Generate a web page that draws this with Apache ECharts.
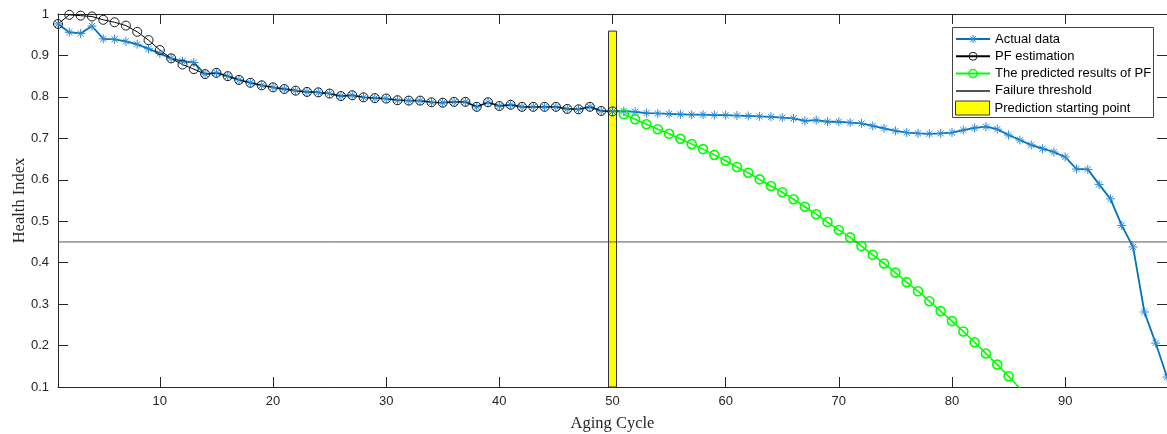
<!DOCTYPE html>
<html><head><meta charset="utf-8">
<script src="https://cdn.jsdelivr.net/npm/echarts@6/dist/echarts.min.js"></script>
<style>html,body{margin:0;padding:0;background:#fff}#c{width:1167px;height:434px}</style>
</head><body><div id="c"></div>
<script>
const xTicks = [10, 20, 30, 40, 50, 60, 70, 80, 90];
const yTicks = [0.1, 0.2, 0.3, 0.4, 0.5, 0.6, 0.7, 0.8, 0.9, 1];
const xRange = [1, 99];
const yRange = [0.1, 1];

const seriesNames = ['Actual data', 'PF estimation', 'The predicted results of PF', 'Failure threshold', 'Prediction starting point'];

const actualStart = 1;
const actualData = [
  0.976, 0.956, 0.953, 0.971, 0.940, 0.939, 0.934, 0.927, 0.916, 0.905,
  0.893, 0.886, 0.883, 0.855, 0.858, 0.850, 0.841, 0.834, 0.828, 0.823,
  0.819, 0.815, 0.812, 0.811, 0.808, 0.802, 0.804, 0.799, 0.797, 0.796,
  0.792, 0.791, 0.791, 0.787, 0.786, 0.788, 0.788, 0.776, 0.787, 0.778,
  0.781, 0.776, 0.776, 0.776, 0.776, 0.771, 0.770, 0.776, 0.766, 0.765,
  0.766, 0.764, 0.761, 0.760, 0.759, 0.758, 0.757, 0.757, 0.756, 0.756,
  0.755, 0.754, 0.753, 0.752, 0.750, 0.748, 0.742, 0.744, 0.740, 0.740,
  0.738, 0.736, 0.730, 0.724, 0.718, 0.714, 0.712, 0.711, 0.712, 0.714,
  0.720, 0.725, 0.728, 0.722, 0.708, 0.696, 0.684, 0.675, 0.667, 0.655,
  0.626, 0.625, 0.589, 0.554, 0.490, 0.438, 0.281, 0.206, 0.124
];

const pfStart = 1;
const pfData = [
  0.976, 0.998, 0.996, 0.994, 0.986, 0.980, 0.972, 0.957, 0.937, 0.913,
  0.893, 0.878, 0.867, 0.855, 0.858, 0.850, 0.841, 0.834, 0.828, 0.823,
  0.819, 0.815, 0.812, 0.811, 0.808, 0.802, 0.804, 0.799, 0.797, 0.796,
  0.792, 0.791, 0.791, 0.787, 0.786, 0.788, 0.788, 0.776, 0.787, 0.778,
  0.781, 0.776, 0.776, 0.776, 0.776, 0.771, 0.770, 0.776, 0.766, 0.765
];

const predStart = 51;
const predData = [
  0.758, 0.746, 0.734, 0.722, 0.711, 0.699, 0.686, 0.674, 0.660, 0.646,
  0.631, 0.617, 0.601, 0.585, 0.570, 0.553, 0.535, 0.517, 0.498, 0.479,
  0.461, 0.440, 0.419, 0.398, 0.376, 0.353, 0.331, 0.307, 0.283, 0.259,
  0.234, 0.208, 0.181, 0.154, 0.126, 0.097
];

const thresholdValue = 0.45;
const startCycle = 50;
const startHeight = 0.96;

const toPairs = (arr, start) => arr.map((v, i) => [start + i, v]);

const axisColor = '#262626';
const sans = 'Arial, "Liberation Sans", sans-serif';
const serif = '"Times New Roman", "Liberation Serif", serif';
const starPath = 'path://M5,0L5,10M0,5L10,5M1.6,1.6L8.4,8.4M1.6,8.4L8.4,1.6';

const legendCenters = [39, 56.3, 73.6, 90.9, 107.5];
const legendBorderWidths = [1, 1, 1.5, 0, 1];

const chart = echarts.init(document.getElementById('c'), null, {renderer: 'canvas'});
const baseX = {
  type: 'value', min: xRange[0], max: xRange[1],
  axisLine: {show: true, onZero: false, lineStyle: {color: axisColor, width: 1}},
  axisTick: {show: true, inside: true, length: 10, customValues: xTicks, lineStyle: {color: axisColor}},
  splitLine: {show: false}
};
const baseY = {
  type: 'value', min: yRange[0], max: yRange[1],
  axisLine: {show: true, onZero: false, lineStyle: {color: axisColor, width: 1}},
  axisTick: {show: true, inside: true, length: 10, customValues: yTicks, lineStyle: {color: axisColor}},
  splitLine: {show: false}
};

const option = {
  animation: false,
  backgroundColor: '#fff',
  grid: {left: 58, right: 0, top: 14, bottom: 47, containLabel: false, outerBoundsMode: 'none'},
  xAxis: [
    Object.assign({}, baseX, {
      position: 'bottom',
      name: 'Aging Cycle', nameLocation: 'middle', nameGap: 28,
      nameTextStyle: {fontFamily: serif, fontSize: 16.5, color: axisColor},
      axisLabel: {show: true, customValues: xTicks, margin: 8, fontFamily: sans, fontSize: 13, color: axisColor}
    }),
    Object.assign({}, baseX, {position: 'top', axisLabel: {show: false}})
  ],
  yAxis: [
    Object.assign({}, baseY, {
      position: 'left',
      name: 'Health Index', nameLocation: 'middle', nameGap: 30, nameRotate: 90,
      nameMoveOverlap: false,
      nameTextStyle: {fontFamily: serif, fontSize: 16.5, color: axisColor},
      axisLabel: {show: true, customValues: yTicks, margin: 9, fontFamily: sans, fontSize: 13, color: axisColor}
    }),
    Object.assign({}, baseY, {position: 'right', axisLine: {show: false, onZero: false}, axisLabel: {show: false}})
  ],
  graphic: [{
    type: 'rect', z: 3,
    shape: {x: 952.5, y: 27.5, width: 201, height: 90},
    style: {fill: '#fff', stroke: '#444', lineWidth: 1}
  }],
  legend: seriesNames.map((n, i) => ({
    data: [i === 4 ? {name: n, icon: 'rect'} : n], left: 955,
    top: legendCenters[i] - (i === 4 ? 7 : 6.5),
    orient: 'vertical', itemWidth: 34, itemHeight: i === 4 ? 14 : 10,
    itemGap: 0, padding: 0, z: 5, selectedMode: false,
    itemStyle: {borderWidth: legendBorderWidths[i]},
    textStyle: {fontFamily: sans, fontSize: 13, color: '#000'}
  })),
  series: [
    {
      name: seriesNames[0], type: 'line', data: toPairs(actualData, actualStart),
      symbol: starPath, symbolSize: 9, showAllSymbol: true, clip: true,
      lineStyle: {color: '#0072BD', width: 1.8},
      itemStyle: {color: '#0072BD', borderColor: '#2a8ad4', borderWidth: 1}
    },
    {
      name: seriesNames[1], type: 'line', data: toPairs(pfData, pfStart),
      symbol: 'circle', symbolSize: 9, showAllSymbol: true, clip: true,
      lineStyle: {color: '#000', width: 1},
      itemStyle: {color: 'rgba(0,0,0,0)', borderColor: '#1a1a1a', borderWidth: 1}
    },
    {
      name: seriesNames[2], type: 'line', data: toPairs(predData, predStart),
      symbol: 'circle', symbolSize: 9, showAllSymbol: true, clip: true,
      lineStyle: {color: '#00ff00', width: 1.6},
      itemStyle: {color: 'rgba(0,0,0,0)', borderColor: '#00ff00', borderWidth: 1.6}
    },
    {
      name: seriesNames[3], type: 'line', data: [[xRange[0], thresholdValue], [xRange[1], thresholdValue]],
      symbol: 'none', clip: true,
      lineStyle: {color: '#555', width: 1},
      itemStyle: {color: 'rgba(0,0,0,0)'}
    },
    {
      name: seriesNames[4], type: 'bar', data: [[startCycle, startHeight]],
      barWidth: 9, clip: true,
      itemStyle: {color: '#ffff00', borderColor: '#333', borderWidth: 1}
    }
  ]
};
chart.setOption(option);
</script>
</body></html>
